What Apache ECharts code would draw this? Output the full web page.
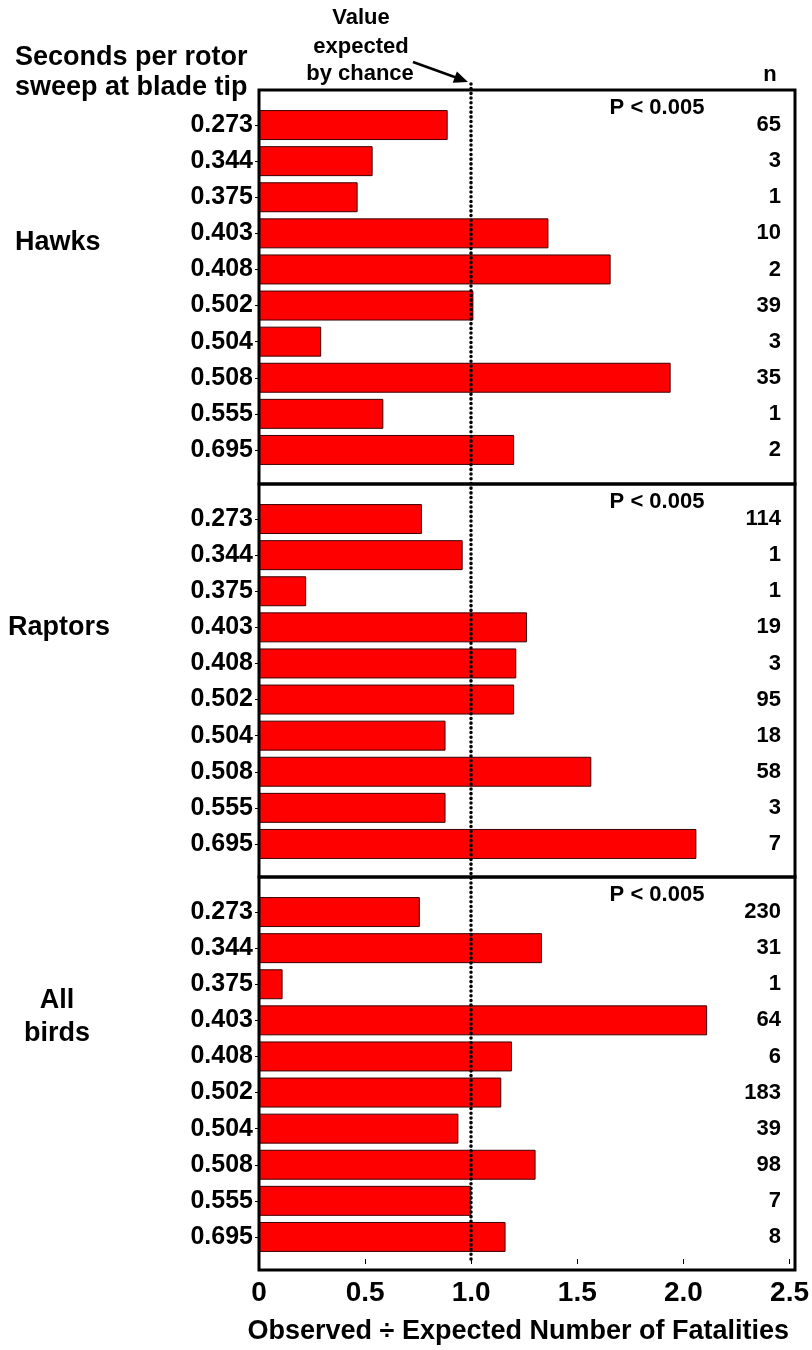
<!DOCTYPE html>
<html>
<head>
<meta charset="utf-8">
<script src="https://cdn.jsdelivr.net/npm/echarts@6/dist/echarts.min.js"></script>
<style>
  html, body { margin: 0; padding: 0; background: #fff; }
  #chart { width: 812px; height: 1350px; }
</style>
</head>
<body>
<div id="chart"></div>
<script>
// sweep time categories (same for all three panels)
const sweepTimes = ['0.273', '0.344', '0.375', '0.403', '0.408', '0.502', '0.504', '0.508', '0.555', '0.695']

// observed / expected ratios
const hawksRatio   = [0.88, 0.53, 0.46, 1.35, 1.64, 1.00, 0.29, 1.92, 0.58, 1.19]
const raptorsRatio = [0.76, 0.95, 0.22, 1.25, 1.20, 1.19, 0.87, 1.55, 0.87, 2.04]
const allRatio     = [0.75, 1.32, 0.11, 2.09, 1.18, 1.13, 0.93, 1.29, 0.99, 1.15]

// sample sizes (n)
const hawksN   = ['65', '3', '1', '10', '2', '39', '3', '35', '1', '2']
const raptorsN = ['114', '1', '1', '19', '3', '95', '18', '58', '3', '7']
const allN     = ['230', '31', '1', '64', '6', '183', '39', '98', '7', '8']

const xTicks = [0, 0.5, 1.0, 1.5, 2.0, 2.5]
const chanceValue = 1.0

const FONT = "'Liberation Sans', Arial, sans-serif"
const plotLeft = 259
const plotRight = 795
const frameTops = [90, 484, 877]
const frameBottom = 1270
const innerPad = 17
const innerHeight = 361

const panels = [
  { ratio: hawksRatio, n: hawksN },
  { ratio: raptorsRatio, n: raptorsN },
  { ratio: allRatio, n: allN },
]

const grid = []
const xAxis = []
const yAxis = []
const series = []

panels.forEach((p, i) => {
  grid.push({
    left: plotLeft,
    right: 812 - plotRight,
    top: frameTops[i] + innerPad,
    height: innerHeight,
  })
  xAxis.push({ type: 'value', gridIndex: i, min: 0, max: 2.5, show: false })
  yAxis.push({
    type: 'category',
    gridIndex: i,
    inverse: true,
    data: sweepTimes,
    axisLine: { show: false },
    axisTick: { show: true, alignWithLabel: true, length: 4, lineStyle: { color: '#000', width: 1 } },
    axisLabel: { color: '#000', fontSize: 25, fontWeight: 'bold', fontFamily: FONT, margin: 6 },
    splitLine: { show: false },
  })
  yAxis.push({
    type: 'category',
    gridIndex: i,
    position: 'right',
    inverse: true,
    data: p.n,
    axisLine: { show: false },
    axisTick: { show: false },
    axisLabel: { inside: true, color: '#000', fontSize: 22, fontWeight: 'bold', fontFamily: FONT, margin: 14 },
    splitLine: { show: false },
  })
  series.push({
    type: 'bar',
    xAxisIndex: i,
    yAxisIndex: i * 2,
    data: p.ratio,
    barCategoryGap: '17%',
    itemStyle: { color: '#ff0000', borderColor: '#3a0000', borderWidth: 1 },
    silent: true,
  })
})

// overlay grid: full height, carries the dotted chance line and the bottom axis
grid.push({ left: plotLeft, right: 812 - plotRight, top: 83, bottom: 1350 - frameBottom })
xAxis.push({
  type: 'value',
  gridIndex: 3,
  min: 0,
  max: 2.5,
  interval: 0.5,
  axisLine: { show: false },
  axisTick: { show: true, length: 5, lineStyle: { color: '#000', width: 1 } },
  splitLine: { show: false },
  axisLabel: {
    color: '#000', fontSize: 28, fontWeight: 'bold', fontFamily: FONT, margin: 20,
    formatter: v => (xTicks.includes(v) ? (v === 0 ? '0' : v.toFixed(1)) : ''),
  },
  name: 'Observed ÷ Expected Number of Fatalities',
  nameLocation: 'middle',
  nameGap: 59,
  nameTextStyle: { color: '#000', fontSize: 27, fontWeight: 'bold', fontFamily: FONT, padding: [0, 12, 0, 0] },
})
yAxis.push({ type: 'value', gridIndex: 3, min: 0, max: 1, show: false })
series.push({
  type: 'scatter',
  xAxisIndex: 3,
  yAxisIndex: 6,
  data: [[chanceValue, 0]],
  symbolSize: 0,
  silent: true,
  z: 10,
  markLine: {
    silent: true,
    symbol: 'none',
    label: { show: false },
    lineStyle: { color: '#000', width: 3.5, type: [0.1, 4.6], cap: 'round' },
    data: [{ xAxis: chanceValue }],
  },
})

const txt = (x, y, text, opts = {}) => ({
  type: 'text',
  x, y,
  z: 20,
  style: Object.assign({
    text, fill: '#000', font: `bold 27px ${FONT}`, textVerticalAlign: 'middle',
  }, opts),
})

const graphic = []
frameTops.forEach((t, i) => {
  const b = i < 2 ? frameTops[i + 1] : frameBottom
  graphic.push({
    type: 'rect', z: 15,
    shape: { x: plotLeft, y: t, width: plotRight - plotLeft, height: b - t },
    style: { fill: 'none', stroke: '#000', lineWidth: 3 },
  })
  graphic.push(txt(657, t + 18, 'P < 0.005', { textAlign: 'center', font: `bold 22px ${FONT}` }))
})
graphic.push(
  txt(15, 58, 'Seconds per rotor'),
  txt(15, 88, 'sweep at blade tip'),
  txt(361, 18, 'Value', { textAlign: 'center', font: `bold 22px ${FONT}` }),
  txt(361, 47, 'expected', { textAlign: 'center', font: `bold 22px ${FONT}` }),
  txt(360, 74, 'by chance', { textAlign: 'center', font: `bold 22px ${FONT}` }),
  txt(770, 75, 'n', { textAlign: 'center', font: `bold 22px ${FONT}` }),
  txt(15, 243, 'Hawks'),
  txt(8, 628, 'Raptors'),
  txt(57, 1001, 'All', { textAlign: 'center' }),
  txt(57, 1034, 'birds', { textAlign: 'center' }),
  {
    type: 'line', z: 20,
    shape: { x1: 413, y1: 62, x2: 456, y2: 77.5 },
    style: { stroke: '#000', lineWidth: 2.5 },
  },
  {
    type: 'polygon', z: 20,
    shape: { points: [[468, 82], [452.7, 82.8], [456.9, 71.6]] },
    style: { fill: '#000' },
  },
)

const myChart = echarts.init(document.getElementById('chart'), null, { renderer: 'canvas' })
myChart.setOption({
  animation: false,
  backgroundColor: '#fff',
  grid,
  xAxis,
  yAxis,
  series,
  graphic,
})
</script>
</body>
</html>
